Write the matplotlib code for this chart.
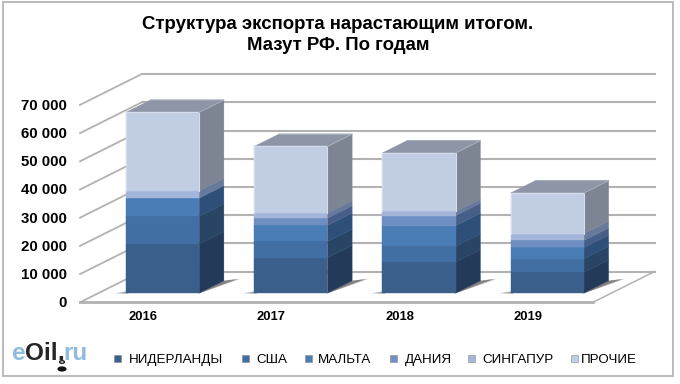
# Структура экспорта мазута - псевдо-3D столбцы с накоплением
import numpy as np
import matplotlib
matplotlib.use('Agg')
import matplotlib.pyplot as plt

plt.rcParams['font.family'] = ['Liberation Sans', 'DejaVu Sans']

# Data
years = ['2016', '2017', '2018', '2019']
niderlandy = [17400, 12600, 11000, 7400]
ssha = [9800, 5700, 5600, 4800]
malta = [6500, 5700, 7300, 4000]
dania = [0, 2600, 3600, 2500]
singapur = [2600, 1800, 1500, 2400]
prochie = [27800, 23600, 20700, 14400]
series_names = ['НИДЕРЛАНДЫ', 'США', 'МАЛЬТА', 'ДАНИЯ', 'СИНГАПУР', 'ПРОЧИЕ']
y_ticks = [0, 10000, 20000, 30000, 40000, 50000, 60000, 70000]

front_colors = ['#3a5f8b', '#426fa3', '#4a7cb6', '#6f8fc3', '#a3b6d9', '#c1cde3']
side_colors = ['#243a5a', '#294566', '#2e4f78', '#475f88', '#687a9c', '#7d8494']
top_color = '#8d95a6'
grid_color = '#b2b2b2'

W, H = 680, 384
fig = plt.figure(figsize=(W / 100, H / 100), dpi=100)
ax = fig.add_axes([0, 0, 1, 1])
ax.axis('off')

# category step 128.25 px, 2.82 px per 1000 units, floor front edge at px (80, 302.3)
ax.set_xlim(-0.5 - 80 / 128.25, -0.5 + (W - 80) / 128.25)
ax.set_ylim((302.3 - H) / 0.00282, 302.3 / 0.00282)

depth_x = 0.48
depth_y = 10900


def pr(x, d, v):
    # oblique projection: d is depth from 0 (front) to 1 (back)
    return x + d * depth_x, v + d * depth_y


def face(points, color, z, alpha=1.0):
    ax.fill(*zip(*points), facecolor=color, edgecolor=color if alpha == 1.0 else 'none',
            linewidth=0.3, zorder=z, alpha=alpha)


x_left, x_right = -0.5, 3.5

# grid on the back wall and the left wall
for v in y_ticks:
    ax.plot(*zip(pr(x_left, 0, v), pr(x_left, 1, v)), color=grid_color, lw=1.3, zorder=1)
    ax.plot(*zip(pr(x_left, 1, v), pr(x_right, 1, v)), color=grid_color, lw=1.5, zorder=1)
# floor edges
ax.plot(*zip(pr(x_left, 0, 0), pr(x_right, 0, 0)), color=grid_color, lw=2, zorder=1)
ax.plot(*zip(pr(x_right, 0, 0), pr(x_right, 1, 0)), color=grid_color, lw=1.1, zorder=1)

values = np.array([niderlandy, ssha, malta, dania, singapur, prochie])
half = 0.2857
d0, d1 = 0.3, 0.7

for i in range(len(years)):
    xa, xb = i - half, i + half
    base = 0
    # soft shadow on the floor, built from a few see-through layers
    for grow in [1.0, 0.75, 0.5, 0.25]:
        face([pr(xb, d0 - 0.03, 0), pr(xb + 0.06 + 0.04 * grow, d1 + 0.06, 0), pr(xb, d1, 0)],
             '#444444', 2, alpha=0.24)
        face([pr(xa - 0.09 * grow, d0 - 0.01, 0), pr(xa + 0.02, d0 - 0.01, 0),
              pr(xa + 0.02, d0 + 0.12 * grow, 0)], '#444444', 2, alpha=0.24)
    for k in range(values.shape[0]):
        v = values[k, i]
        if v == 0:
            continue
        top = base + v
        face([pr(xa, d0, base), pr(xb, d0, base), pr(xb, d0, top), pr(xa, d0, top)],
             front_colors[k], 4)
        face([pr(xb, d0, base), pr(xb, d1, base), pr(xb, d1, top), pr(xb, d0, top)],
             side_colors[k], 3)
        base = top
    face([pr(xa, d0, base), pr(xb, d0, base), pr(xb, d1, base), pr(xa, d1, base)], top_color, 3)
    # light rim of the front face and of the top
    ax.plot(*zip(pr(xa, d0, base - values[5, i]), pr(xa, d0, base), pr(xb, d0, base),
                 pr(xb, d0, base - values[5, i])), color='#d5deee', lw=0.8, zorder=5)
    ax.plot(*zip(pr(xa, d1, base), pr(xb, d1, base), pr(xb, d0, base)),
            color='#a4abb9', lw=0.8, zorder=5)
    ax.text(i - 0.007, -5300, years[i], ha='center', va='center', fontsize=9.4,
            fontweight='bold', color='black', zorder=6)

for v in y_ticks:
    label = '0' if v == 0 else f'{v // 1000} 000'
    ax.text(-0.5 - 13 / 128.25, v - 300, label, ha='right', va='center', fontsize=10.8,
            fontweight='bold', color='black')


def t(x, y, s, **kw):
    fig.text(x / W, 1 - y / H, s, **kw)


t(338, 24.5, 'Структура экспорта нарастающим итогом.', ha='center', va='center',
  fontsize=13.4, fontweight='bold')
t(338, 45.5, 'Мазут РФ. По годам', ha='center', va='center', fontsize=13.4, fontweight='bold')

# legend
marker_x = [114, 242, 305, 390, 468, 571]
text_x = [129, 256, 318, 405, 482, 581]
for mx, tx, c, name in zip(marker_x, text_x, front_colors, series_names):
    fig.patches.append(plt.Rectangle((mx / W, 1 - 361.5 / H), 7 / W, 7 / H, transform=fig.transFigure,
                                     facecolor=c, edgecolor='#8a8a8a', linewidth=0.4))
    t(tx, 363, name, ha='left', va='baseline', fontsize=9.6, color='black')

# logo
t(12, 353.5, 'e', ha='left', va='center', fontsize=17.5, fontweight='bold', color='#8fbbde')
t(25, 353.5, 'Oil', ha='left', va='center', fontsize=17.5, fontweight='bold', color='#262626')
t(57, 353.5, '.', ha='left', va='center', fontsize=17.5, fontweight='bold', color='#262626')
t(63, 353.5, 'ru', ha='left', va='center', fontsize=17.5, fontweight='bold', color='#8fbbde')
fig.patches.append(plt.Circle((62 / W, 1 - 369 / H), 4.6 / W, transform=fig.transFigure,
                              facecolor='#111111', edgecolor='none'))
fig.patches.append(plt.Circle((62 / W, 1 - 362 / H), 2.4 / W, transform=fig.transFigure,
                              facecolor='none', edgecolor='#222222', linewidth=1.0))

# outer frame
fig.patches.append(plt.Rectangle((3 / W, 1 - 376 / H), 670 / W, 374 / H, transform=fig.transFigure,
                                 facecolor='none', edgecolor='#bbbbbb', linewidth=1.4))

plt.savefig('out.png', dpi=100)
